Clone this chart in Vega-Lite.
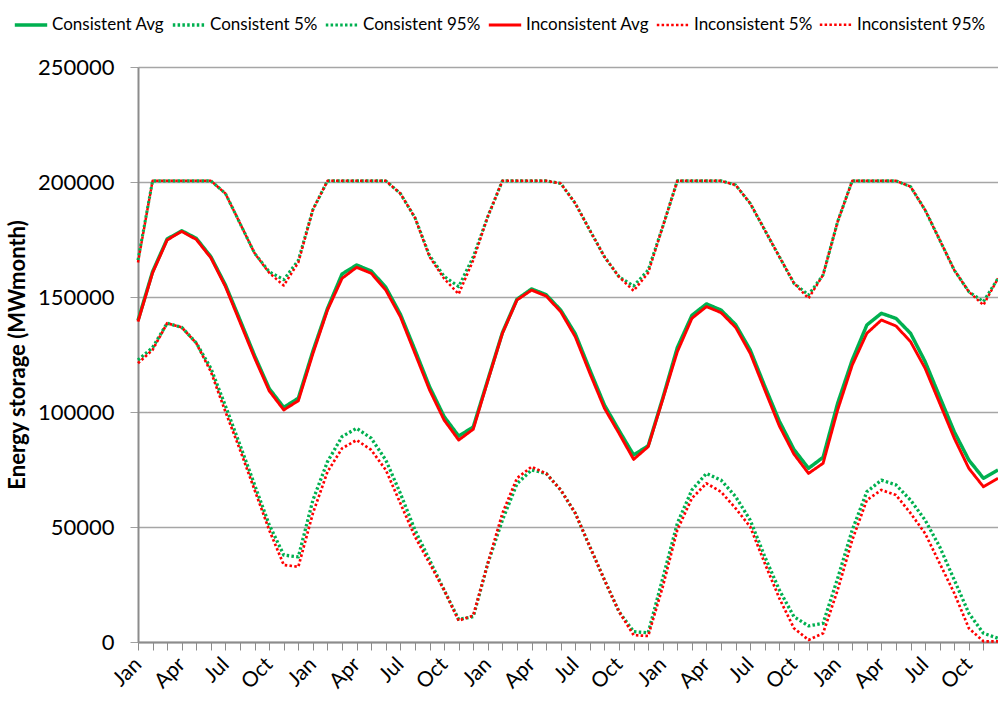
{
  "$schema": "https://vega.github.io/schema/vega-lite/v6.json",
  "autosize": {"type": "none"},
  "padding": {"left": 138, "top": 67, "right": 0, "bottom": 62},
  "width": 860,
  "height": 575,
  "background": "white",
  "config": {"view": {"stroke": null}},
  "datasets": {
    "storage": [
      {"i":0,"series":"Consistent Avg","value":139800},{"i":1,"series":"Consistent Avg","value":161000},{"i":2,"series":"Consistent Avg","value":175200},{"i":3,"series":"Consistent Avg","value":178800},{"i":4,"series":"Consistent Avg","value":175500},{"i":5,"series":"Consistent Avg","value":167500},{"i":6,"series":"Consistent Avg","value":155200},{"i":7,"series":"Consistent Avg","value":140000},{"i":8,"series":"Consistent Avg","value":124500},{"i":9,"series":"Consistent Avg","value":110200},{"i":10,"series":"Consistent Avg","value":102000},{"i":11,"series":"Consistent Avg","value":106000},{"i":12,"series":"Consistent Avg","value":126500},{"i":13,"series":"Consistent Avg","value":145000},{"i":14,"series":"Consistent Avg","value":160000},{"i":15,"series":"Consistent Avg","value":163900},{"i":16,"series":"Consistent Avg","value":161300},{"i":17,"series":"Consistent Avg","value":154200},{"i":18,"series":"Consistent Avg","value":142500},{"i":19,"series":"Consistent Avg","value":127000},{"i":20,"series":"Consistent Avg","value":111000},{"i":21,"series":"Consistent Avg","value":98000},{"i":22,"series":"Consistent Avg","value":89500},{"i":23,"series":"Consistent Avg","value":93500},{"i":24,"series":"Consistent Avg","value":114000},{"i":25,"series":"Consistent Avg","value":134500},{"i":26,"series":"Consistent Avg","value":149000},{"i":27,"series":"Consistent Avg","value":153500},{"i":28,"series":"Consistent Avg","value":151000},{"i":29,"series":"Consistent Avg","value":144300},{"i":30,"series":"Consistent Avg","value":134000},{"i":31,"series":"Consistent Avg","value":118300},{"i":32,"series":"Consistent Avg","value":103000},{"i":33,"series":"Consistent Avg","value":92000},{"i":34,"series":"Consistent Avg","value":81300},{"i":35,"series":"Consistent Avg","value":85300},{"i":36,"series":"Consistent Avg","value":106000},{"i":37,"series":"Consistent Avg","value":128000},{"i":38,"series":"Consistent Avg","value":142000},{"i":39,"series":"Consistent Avg","value":147000},{"i":40,"series":"Consistent Avg","value":144300},{"i":41,"series":"Consistent Avg","value":138000},{"i":42,"series":"Consistent Avg","value":127000},{"i":43,"series":"Consistent Avg","value":111200},{"i":44,"series":"Consistent Avg","value":96000},{"i":45,"series":"Consistent Avg","value":83700},{"i":46,"series":"Consistent Avg","value":75500},{"i":47,"series":"Consistent Avg","value":80300},{"i":48,"series":"Consistent Avg","value":103800},{"i":49,"series":"Consistent Avg","value":122600},{"i":50,"series":"Consistent Avg","value":137800},{"i":51,"series":"Consistent Avg","value":142900},{"i":52,"series":"Consistent Avg","value":140700},{"i":53,"series":"Consistent Avg","value":134200},{"i":54,"series":"Consistent Avg","value":121900},{"i":55,"series":"Consistent Avg","value":106600},{"i":56,"series":"Consistent Avg","value":91400},{"i":57,"series":"Consistent Avg","value":79100},{"i":58,"series":"Consistent Avg","value":71200},{"i":59,"series":"Consistent Avg","value":74800},
      {"i":0,"series":"Consistent 5%","value":122600},{"i":1,"series":"Consistent 5%","value":128000},{"i":2,"series":"Consistent 5%","value":138600},{"i":3,"series":"Consistent 5%","value":136800},{"i":4,"series":"Consistent 5%","value":130000},{"i":5,"series":"Consistent 5%","value":119000},{"i":6,"series":"Consistent 5%","value":102600},{"i":7,"series":"Consistent 5%","value":85600},{"i":8,"series":"Consistent 5%","value":68300},{"i":9,"series":"Consistent 5%","value":51000},{"i":10,"series":"Consistent 5%","value":37800},{"i":11,"series":"Consistent 5%","value":37000},{"i":12,"series":"Consistent 5%","value":61700},{"i":13,"series":"Consistent 5%","value":78400},{"i":14,"series":"Consistent 5%","value":89300},{"i":15,"series":"Consistent 5%","value":92900},{"i":16,"series":"Consistent 5%","value":88600},{"i":17,"series":"Consistent 5%","value":79100},{"i":18,"series":"Consistent 5%","value":64600},{"i":19,"series":"Consistent 5%","value":48700},{"i":20,"series":"Consistent 5%","value":35700},{"i":21,"series":"Consistent 5%","value":22600},{"i":22,"series":"Consistent 5%","value":9800},{"i":23,"series":"Consistent 5%","value":11000},{"i":24,"series":"Consistent 5%","value":34200},{"i":25,"series":"Consistent 5%","value":53000},{"i":26,"series":"Consistent 5%","value":68800},{"i":27,"series":"Consistent 5%","value":74800},{"i":28,"series":"Consistent 5%","value":73300},{"i":29,"series":"Consistent 5%","value":66100},{"i":30,"series":"Consistent 5%","value":56000},{"i":31,"series":"Consistent 5%","value":41400},{"i":32,"series":"Consistent 5%","value":27000},{"i":33,"series":"Consistent 5%","value":13200},{"i":34,"series":"Consistent 5%","value":4500},{"i":35,"series":"Consistent 5%","value":4000},{"i":36,"series":"Consistent 5%","value":27700},{"i":37,"series":"Consistent 5%","value":51600},{"i":38,"series":"Consistent 5%","value":66100},{"i":39,"series":"Consistent 5%","value":73300},{"i":40,"series":"Consistent 5%","value":70400},{"i":41,"series":"Consistent 5%","value":63200},{"i":42,"series":"Consistent 5%","value":53000},{"i":43,"series":"Consistent 5%","value":37100},{"i":44,"series":"Consistent 5%","value":22600},{"i":45,"series":"Consistent 5%","value":11000},{"i":46,"series":"Consistent 5%","value":7000},{"i":47,"series":"Consistent 5%","value":8100},{"i":48,"series":"Consistent 5%","value":27700},{"i":49,"series":"Consistent 5%","value":48700},{"i":50,"series":"Consistent 5%","value":65300},{"i":51,"series":"Consistent 5%","value":70400},{"i":52,"series":"Consistent 5%","value":68300},{"i":53,"series":"Consistent 5%","value":61700},{"i":54,"series":"Consistent 5%","value":53000},{"i":55,"series":"Consistent 5%","value":41400},{"i":56,"series":"Consistent 5%","value":27000},{"i":57,"series":"Consistent 5%","value":12500},{"i":58,"series":"Consistent 5%","value":3800},{"i":59,"series":"Consistent 5%","value":1600},
      {"i":0,"series":"Consistent 95%","value":166000},{"i":1,"series":"Consistent 95%","value":200500},{"i":2,"series":"Consistent 95%","value":200500},{"i":3,"series":"Consistent 95%","value":200500},{"i":4,"series":"Consistent 95%","value":200500},{"i":5,"series":"Consistent 95%","value":200500},{"i":6,"series":"Consistent 95%","value":195000},{"i":7,"series":"Consistent 95%","value":182000},{"i":8,"series":"Consistent 95%","value":169000},{"i":9,"series":"Consistent 95%","value":161000},{"i":10,"series":"Consistent 95%","value":157500},{"i":11,"series":"Consistent 95%","value":166000},{"i":12,"series":"Consistent 95%","value":188000},{"i":13,"series":"Consistent 95%","value":200500},{"i":14,"series":"Consistent 95%","value":200500},{"i":15,"series":"Consistent 95%","value":200500},{"i":16,"series":"Consistent 95%","value":200500},{"i":17,"series":"Consistent 95%","value":200500},{"i":18,"series":"Consistent 95%","value":195000},{"i":19,"series":"Consistent 95%","value":184500},{"i":20,"series":"Consistent 95%","value":168000},{"i":21,"series":"Consistent 95%","value":159000},{"i":22,"series":"Consistent 95%","value":154500},{"i":23,"series":"Consistent 95%","value":167500},{"i":24,"series":"Consistent 95%","value":185000},{"i":25,"series":"Consistent 95%","value":200500},{"i":26,"series":"Consistent 95%","value":200500},{"i":27,"series":"Consistent 95%","value":200500},{"i":28,"series":"Consistent 95%","value":200500},{"i":29,"series":"Consistent 95%","value":199400},{"i":30,"series":"Consistent 95%","value":190700},{"i":31,"series":"Consistent 95%","value":179000},{"i":32,"series":"Consistent 95%","value":167500},{"i":33,"series":"Consistent 95%","value":158800},{"i":34,"series":"Consistent 95%","value":154800},{"i":35,"series":"Consistent 95%","value":161700},{"i":36,"series":"Consistent 95%","value":180600},{"i":37,"series":"Consistent 95%","value":200500},{"i":38,"series":"Consistent 95%","value":200500},{"i":39,"series":"Consistent 95%","value":200500},{"i":40,"series":"Consistent 95%","value":200500},{"i":41,"series":"Consistent 95%","value":198700},{"i":42,"series":"Consistent 95%","value":190700},{"i":43,"series":"Consistent 95%","value":179100},{"i":44,"series":"Consistent 95%","value":167500},{"i":45,"series":"Consistent 95%","value":156000},{"i":46,"series":"Consistent 95%","value":150900},{"i":47,"series":"Consistent 95%","value":159600},{"i":48,"series":"Consistent 95%","value":182800},{"i":49,"series":"Consistent 95%","value":200500},{"i":50,"series":"Consistent 95%","value":200500},{"i":51,"series":"Consistent 95%","value":200500},{"i":52,"series":"Consistent 95%","value":200500},{"i":53,"series":"Consistent 95%","value":198000},{"i":54,"series":"Consistent 95%","value":187800},{"i":55,"series":"Consistent 95%","value":174800},{"i":56,"series":"Consistent 95%","value":161700},{"i":57,"series":"Consistent 95%","value":152300},{"i":58,"series":"Consistent 95%","value":148000},{"i":59,"series":"Consistent 95%","value":158100},
      {"i":0,"series":"Inconsistent Avg","value":139300},{"i":1,"series":"Inconsistent Avg","value":160500},{"i":2,"series":"Inconsistent Avg","value":174800},{"i":3,"series":"Inconsistent Avg","value":178500},{"i":4,"series":"Inconsistent Avg","value":175000},{"i":5,"series":"Inconsistent Avg","value":167000},{"i":6,"series":"Inconsistent Avg","value":154500},{"i":7,"series":"Inconsistent Avg","value":139000},{"i":8,"series":"Inconsistent Avg","value":123500},{"i":9,"series":"Inconsistent Avg","value":109200},{"i":10,"series":"Inconsistent Avg","value":100900},{"i":11,"series":"Inconsistent Avg","value":104900},{"i":12,"series":"Inconsistent Avg","value":125400},{"i":13,"series":"Inconsistent Avg","value":144300},{"i":14,"series":"Inconsistent Avg","value":158100},{"i":15,"series":"Inconsistent Avg","value":162900},{"i":16,"series":"Inconsistent Avg","value":160300},{"i":17,"series":"Inconsistent Avg","value":153000},{"i":18,"series":"Inconsistent Avg","value":141400},{"i":19,"series":"Inconsistent Avg","value":125500},{"i":20,"series":"Inconsistent Avg","value":109600},{"i":21,"series":"Inconsistent Avg","value":96500},{"i":22,"series":"Inconsistent Avg","value":87800},{"i":23,"series":"Inconsistent Avg","value":92500},{"i":24,"series":"Inconsistent Avg","value":113600},{"i":25,"series":"Inconsistent Avg","value":134200},{"i":26,"series":"Inconsistent Avg","value":148700},{"i":27,"series":"Inconsistent Avg","value":153000},{"i":28,"series":"Inconsistent Avg","value":150400},{"i":29,"series":"Inconsistent Avg","value":143600},{"i":30,"series":"Inconsistent Avg","value":132700},{"i":31,"series":"Inconsistent Avg","value":116800},{"i":32,"series":"Inconsistent Avg","value":101600},{"i":33,"series":"Inconsistent Avg","value":90700},{"i":34,"series":"Inconsistent Avg","value":79400},{"i":35,"series":"Inconsistent Avg","value":84900},{"i":36,"series":"Inconsistent Avg","value":105500},{"i":37,"series":"Inconsistent Avg","value":126200},{"i":38,"series":"Inconsistent Avg","value":140700},{"i":39,"series":"Inconsistent Avg","value":145800},{"i":40,"series":"Inconsistent Avg","value":143200},{"i":41,"series":"Inconsistent Avg","value":136800},{"i":42,"series":"Inconsistent Avg","value":125500},{"i":43,"series":"Inconsistent Avg","value":109600},{"i":44,"series":"Inconsistent Avg","value":93900},{"i":45,"series":"Inconsistent Avg","value":81700},{"i":46,"series":"Inconsistent Avg","value":73300},{"i":47,"series":"Inconsistent Avg","value":77700},{"i":48,"series":"Inconsistent Avg","value":100900},{"i":49,"series":"Inconsistent Avg","value":120400},{"i":50,"series":"Inconsistent Avg","value":134200},{"i":51,"series":"Inconsistent Avg","value":140000},{"i":52,"series":"Inconsistent Avg","value":137400},{"i":53,"series":"Inconsistent Avg","value":130600},{"i":54,"series":"Inconsistent Avg","value":119000},{"i":55,"series":"Inconsistent Avg","value":103800},{"i":56,"series":"Inconsistent Avg","value":88600},{"i":57,"series":"Inconsistent Avg","value":75500},{"i":58,"series":"Inconsistent Avg","value":67500},{"i":59,"series":"Inconsistent Avg","value":71200},
      {"i":0,"series":"Inconsistent 5%","value":121200},{"i":1,"series":"Inconsistent 5%","value":127000},{"i":2,"series":"Inconsistent 5%","value":138600},{"i":3,"series":"Inconsistent 5%","value":136800},{"i":4,"series":"Inconsistent 5%","value":129900},{"i":5,"series":"Inconsistent 5%","value":117500},{"i":6,"series":"Inconsistent 5%","value":100100},{"i":7,"series":"Inconsistent 5%","value":83500},{"i":8,"series":"Inconsistent 5%","value":66100},{"i":9,"series":"Inconsistent 5%","value":48700},{"i":10,"series":"Inconsistent 5%","value":33500},{"i":11,"series":"Inconsistent 5%","value":32700},{"i":12,"series":"Inconsistent 5%","value":56000},{"i":13,"series":"Inconsistent 5%","value":74000},{"i":14,"series":"Inconsistent 5%","value":84200},{"i":15,"series":"Inconsistent 5%","value":87800},{"i":16,"series":"Inconsistent 5%","value":83500},{"i":17,"series":"Inconsistent 5%","value":74800},{"i":18,"series":"Inconsistent 5%","value":60300},{"i":19,"series":"Inconsistent 5%","value":45800},{"i":20,"series":"Inconsistent 5%","value":34200},{"i":21,"series":"Inconsistent 5%","value":22600},{"i":22,"series":"Inconsistent 5%","value":9300},{"i":23,"series":"Inconsistent 5%","value":11500},{"i":24,"series":"Inconsistent 5%","value":34200},{"i":25,"series":"Inconsistent 5%","value":56000},{"i":26,"series":"Inconsistent 5%","value":71200},{"i":27,"series":"Inconsistent 5%","value":76200},{"i":28,"series":"Inconsistent 5%","value":73300},{"i":29,"series":"Inconsistent 5%","value":66100},{"i":30,"series":"Inconsistent 5%","value":56000},{"i":31,"series":"Inconsistent 5%","value":41400},{"i":32,"series":"Inconsistent 5%","value":27000},{"i":33,"series":"Inconsistent 5%","value":13200},{"i":34,"series":"Inconsistent 5%","value":3000},{"i":35,"series":"Inconsistent 5%","value":2600},{"i":36,"series":"Inconsistent 5%","value":24000},{"i":37,"series":"Inconsistent 5%","value":48700},{"i":38,"series":"Inconsistent 5%","value":62500},{"i":39,"series":"Inconsistent 5%","value":69000},{"i":40,"series":"Inconsistent 5%","value":65300},{"i":41,"series":"Inconsistent 5%","value":58100},{"i":42,"series":"Inconsistent 5%","value":50100},{"i":43,"series":"Inconsistent 5%","value":34200},{"i":44,"series":"Inconsistent 5%","value":19000},{"i":45,"series":"Inconsistent 5%","value":6000},{"i":46,"series":"Inconsistent 5%","value":900},{"i":47,"series":"Inconsistent 5%","value":3800},{"i":48,"series":"Inconsistent 5%","value":22600},{"i":49,"series":"Inconsistent 5%","value":44300},{"i":50,"series":"Inconsistent 5%","value":61700},{"i":51,"series":"Inconsistent 5%","value":66100},{"i":52,"series":"Inconsistent 5%","value":63900},{"i":53,"series":"Inconsistent 5%","value":56000},{"i":54,"series":"Inconsistent 5%","value":47200},{"i":55,"series":"Inconsistent 5%","value":34200},{"i":56,"series":"Inconsistent 5%","value":21200},{"i":57,"series":"Inconsistent 5%","value":6000},{"i":58,"series":"Inconsistent 5%","value":300},{"i":59,"series":"Inconsistent 5%","value":300},
      {"i":0,"series":"Inconsistent 95%","value":165000},{"i":1,"series":"Inconsistent 95%","value":200500},{"i":2,"series":"Inconsistent 95%","value":200500},{"i":3,"series":"Inconsistent 95%","value":200500},{"i":4,"series":"Inconsistent 95%","value":200500},{"i":5,"series":"Inconsistent 95%","value":200500},{"i":6,"series":"Inconsistent 95%","value":195000},{"i":7,"series":"Inconsistent 95%","value":182000},{"i":8,"series":"Inconsistent 95%","value":169000},{"i":9,"series":"Inconsistent 95%","value":160500},{"i":10,"series":"Inconsistent 95%","value":155000},{"i":11,"series":"Inconsistent 95%","value":165000},{"i":12,"series":"Inconsistent 95%","value":188000},{"i":13,"series":"Inconsistent 95%","value":200500},{"i":14,"series":"Inconsistent 95%","value":200500},{"i":15,"series":"Inconsistent 95%","value":200500},{"i":16,"series":"Inconsistent 95%","value":200500},{"i":17,"series":"Inconsistent 95%","value":200500},{"i":18,"series":"Inconsistent 95%","value":195000},{"i":19,"series":"Inconsistent 95%","value":184500},{"i":20,"series":"Inconsistent 95%","value":167500},{"i":21,"series":"Inconsistent 95%","value":158000},{"i":22,"series":"Inconsistent 95%","value":151300},{"i":23,"series":"Inconsistent 95%","value":166000},{"i":24,"series":"Inconsistent 95%","value":185000},{"i":25,"series":"Inconsistent 95%","value":200500},{"i":26,"series":"Inconsistent 95%","value":200500},{"i":27,"series":"Inconsistent 95%","value":200500},{"i":28,"series":"Inconsistent 95%","value":200500},{"i":29,"series":"Inconsistent 95%","value":199400},{"i":30,"series":"Inconsistent 95%","value":190700},{"i":31,"series":"Inconsistent 95%","value":179000},{"i":32,"series":"Inconsistent 95%","value":167500},{"i":33,"series":"Inconsistent 95%","value":158800},{"i":34,"series":"Inconsistent 95%","value":152700},{"i":35,"series":"Inconsistent 95%","value":160500},{"i":36,"series":"Inconsistent 95%","value":180600},{"i":37,"series":"Inconsistent 95%","value":200500},{"i":38,"series":"Inconsistent 95%","value":200500},{"i":39,"series":"Inconsistent 95%","value":200500},{"i":40,"series":"Inconsistent 95%","value":200500},{"i":41,"series":"Inconsistent 95%","value":198700},{"i":42,"series":"Inconsistent 95%","value":190700},{"i":43,"series":"Inconsistent 95%","value":179100},{"i":44,"series":"Inconsistent 95%","value":167500},{"i":45,"series":"Inconsistent 95%","value":156000},{"i":46,"series":"Inconsistent 95%","value":149400},{"i":47,"series":"Inconsistent 95%","value":159600},{"i":48,"series":"Inconsistent 95%","value":182800},{"i":49,"series":"Inconsistent 95%","value":200500},{"i":50,"series":"Inconsistent 95%","value":200500},{"i":51,"series":"Inconsistent 95%","value":200500},{"i":52,"series":"Inconsistent 95%","value":200500},{"i":53,"series":"Inconsistent 95%","value":198000},{"i":54,"series":"Inconsistent 95%","value":187800},{"i":55,"series":"Inconsistent 95%","value":174800},{"i":56,"series":"Inconsistent 95%","value":161700},{"i":57,"series":"Inconsistent 95%","value":152300},{"i":58,"series":"Inconsistent 95%","value":146500},{"i":59,"series":"Inconsistent 95%","value":158100}
    ]
  },
  "data": {"name": "storage"},
  "mark": {"type": "line", "strokeCap": "butt", "strokeJoin": "round", "clip": false},
  "encoding": {
    "x": {
      "field": "i", "type": "quantitative",
      "scale": {"domain": [0, 59], "nice": false, "zero": false},
      "axis": {
        "title": null, "grid": false,
        "values": [0,1,2,3,4,5,6,7,8,9,10,11,12,13,14,15,16,17,18,19,20,21,22,23,24,25,26,27,28,29,30,31,32,33,34,35,36,37,38,39,40,41,42,43,44,45,46,47,48,49,50,51,52,53,54,55,56,57,58,59],
        "labelExpr": "datum.value % 3 == 0 ? ['Jan','Apr','Jul','Oct'][(datum.value % 12) / 3] : ''",
        "labelOverlap": false, "labelFlush": false, "labelBound": false,
        "labelAngle": -45, "labelAlign": "right", "labelBaseline": "middle",
        "labelFont": "Lato", "labelFontSize": 21, "labelColor": "#000000", "labelPadding": 11,
        "tickSize": 8, "tickColor": "#8c8c8c", "tickWidth": 1,
        "domainColor": "#8c8c8c", "domainWidth": 2
      }
    },
    "y": {
      "field": "value", "type": "quantitative",
      "scale": {"domain": [0, 250000], "nice": false},
      "axis": {
        "title": "Energy storage (MWmonth)",
        "titleFont": "Lato", "titleFontSize": 22, "titleFontWeight": "bold", "titleColor": "#000000", "titlePadding": 8,
        "values": [0, 50000, 100000, 150000, 200000, 250000], "format": "d",
        "labelFont": "Lato", "labelFontSize": 22, "labelColor": "#000000", "labelPadding": 16,
        "tickSize": 8, "tickColor": "#a0a0a0",
        "domainColor": "#8c8c8c", "domainWidth": 2,
        "grid": true, "gridColor": "#a6a6a6", "gridWidth": 1.5
      }
    },
    "color": {
      "field": "series", "type": "nominal",
      "scale": {
        "domain": ["Consistent Avg", "Consistent 5%", "Consistent 95%", "Inconsistent Avg", "Inconsistent 5%", "Inconsistent 95%"],
        "range": ["#00B050", "#00B050", "#00B050", "#FF0000", "#FF0000", "#FF0000"]
      },
      "legend": {
        "title": null, "orient": "none", "legendX": -125, "legendY": -60, "direction": "horizontal", "columns": 6,
        "symbolType": "stroke", "symbolSize": 1050, "labelFont": "Lato", "labelFontSize": 17, "labelColor": "#000000",
        "labelOffset": 3, "columnPadding": 1
      }
    },
    "strokeDash": {
      "field": "series", "type": "nominal",
      "scale": {
        "domain": ["Consistent Avg", "Consistent 5%", "Consistent 95%", "Inconsistent Avg", "Inconsistent 5%", "Inconsistent 95%"],
        "range": [[1, 0], [2.5, 2.3], [2.5, 2.3], [1, 0], [2.5, 2.3], [2.5, 2.3]]
      },
      "legend": {
        "title": null, "orient": "none", "legendX": -125, "legendY": -60, "direction": "horizontal", "columns": 6,
        "symbolType": "stroke", "symbolSize": 1050, "labelFont": "Lato", "labelFontSize": 17, "labelColor": "#000000",
        "labelOffset": 3, "columnPadding": 1
      }
    },
    "strokeWidth": {
      "field": "series", "type": "nominal",
      "scale": {
        "domain": ["Consistent Avg", "Consistent 5%", "Consistent 95%", "Inconsistent Avg", "Inconsistent 5%", "Inconsistent 95%"],
        "range": [3.5, 2.5, 2.5, 3.5, 2.5, 2.5]
      },
      "legend": {
        "title": null, "orient": "none", "legendX": -125, "legendY": -60, "direction": "horizontal", "columns": 6,
        "symbolType": "stroke", "symbolSize": 1050, "labelFont": "Lato", "labelFontSize": 17, "labelColor": "#000000",
        "labelOffset": 3, "columnPadding": 1
      }
    },
    "order": {"field": "i", "type": "quantitative"}
  }
}
